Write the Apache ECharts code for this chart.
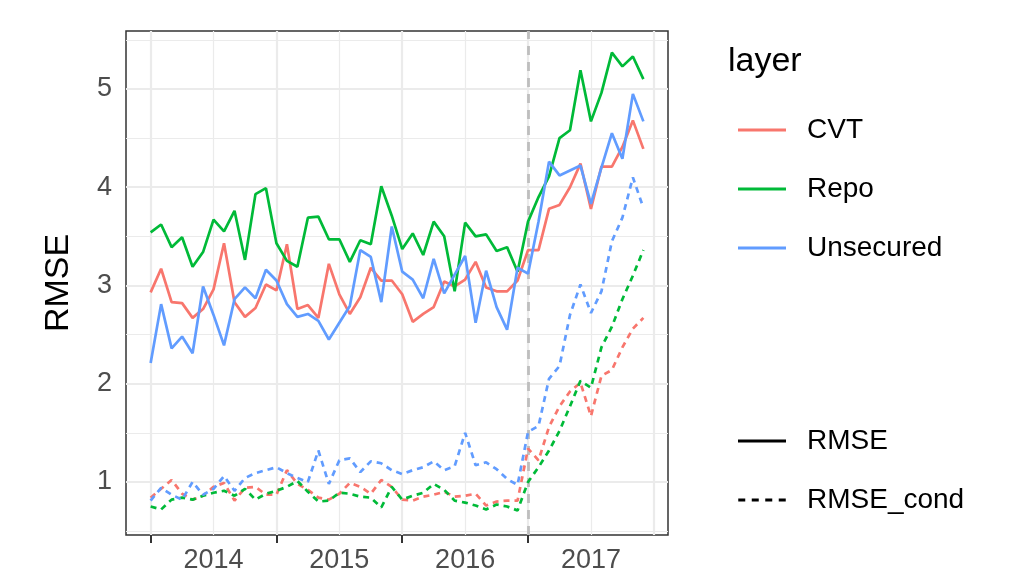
<!DOCTYPE html>
<html>
<head>
<meta charset="utf-8">
<script src="https://cdn.jsdelivr.net/npm/echarts@6/dist/echarts.min.js"></script>
<style>
html,body{margin:0;padding:0;background:#fff;}
#chart{width:1017px;height:579px;}
</style>
</head>
<body>
<div id="chart"></div>
<script>
// Months: Jan 2014 .. Dec 2017 (index 0..47)
const years = ['2014', '2015', '2016', '2017'];
const monthIndex = Array.from({length: 48}, (_, i) => i);

// RMSE (solid)
const cvtRMSE = [2.93,3.17,2.83,2.82,2.67,2.76,2.96,3.43,2.83,2.68,2.77,3.01,
                 2.95,3.42,2.76,2.80,2.67,3.22,2.91,2.71,2.88,3.18,3.05,3.05,
                 2.91,2.63,2.71,2.78,3.04,2.99,3.06,3.24,2.98,2.94,2.94,3.05,
                 3.36,3.36,3.78,3.82,4.00,4.24,3.78,4.21,4.21,4.41,4.68,4.39];
const repoRMSE = [3.54,3.62,3.39,3.49,3.19,3.34,3.67,3.55,3.76,3.26,3.93,3.99,
                  3.43,3.25,3.19,3.69,3.70,3.47,3.47,3.24,3.46,3.42,4.01,3.71,
                  3.37,3.53,3.31,3.65,3.50,2.94,3.64,3.50,3.52,3.35,3.39,3.14,
                  3.65,3.90,4.11,4.50,4.58,5.19,4.67,4.96,5.37,5.23,5.33,5.10];
const unsecRMSE = [2.21,2.81,2.36,2.48,2.31,2.99,2.70,2.39,2.86,2.98,2.87,3.16,
                   3.05,2.81,2.68,2.71,2.64,2.45,2.62,2.79,3.36,3.29,2.83,3.60,
                   3.14,3.06,2.87,3.27,2.92,3.11,3.30,2.62,3.15,2.78,2.55,3.18,
                   3.12,3.65,4.26,4.12,4.17,4.22,3.83,4.20,4.55,4.29,4.95,4.67];
// RMSE_cond (dashed)
const cvtCond = [0.84,0.93,1.02,0.88,0.82,0.86,0.95,0.99,0.81,0.94,0.95,0.87,
                 0.87,1.12,0.98,0.92,0.84,0.82,0.88,0.99,0.95,0.88,1.02,0.95,
                 0.82,0.81,0.85,0.87,0.90,0.85,0.86,0.88,0.76,0.80,0.81,0.81,
                 1.34,1.22,1.56,1.77,1.92,2.01,1.67,2.08,2.14,2.37,2.56,2.67];
const repoCond = [0.75,0.72,0.82,0.84,0.82,0.86,0.89,0.91,0.86,0.93,0.82,0.88,
                  0.91,0.95,1.01,0.90,0.80,0.81,0.89,0.88,0.85,0.84,0.74,0.95,
                  0.82,0.86,0.89,0.98,0.92,0.81,0.79,0.76,0.72,0.77,0.75,0.71,
                  1.00,1.15,1.32,1.52,1.77,2.03,1.96,2.37,2.58,2.86,3.10,3.36];
const unsecCond = [0.81,0.94,0.87,0.82,1.00,0.87,0.93,1.06,0.91,1.04,1.09,1.12,
                   1.15,1.09,1.04,1.00,1.32,0.98,1.22,1.24,1.10,1.21,1.19,1.12,
                   1.08,1.12,1.15,1.21,1.12,1.16,1.50,1.17,1.20,1.13,1.03,0.97,
                   1.51,1.57,2.05,2.18,2.70,3.01,2.72,2.94,3.45,3.69,4.10,3.79];

const yTicks = [1, 2, 3, 4, 5];
const yMinor = [0.5, 1.5, 2.5, 3.5, 4.5, 5.5];
const xYearStarts = [0, 12, 24, 36, 48];
const xYearMids = [6, 18, 30, 42];
const breakMonth = 36;

const COLORS = {CVT: '#F8766D', Repo: '#00BA38', Unsecured: '#619CFF'};
const FONT = '"Liberation Sans", Arial, Helvetica, sans-serif';
const GRID = '#EBEBEB';
const ICON_SOLID = 'path://M0,0h48v3h-48z';
const ICON_DASH = 'path://M0,0h7v3h-7z M13.5,0h7v3h-7z M27,0h7v3h-7z M40.5,0h7v3h-7z';

function pairs(arr) { return arr.map((v, i) => [monthIndex[i], v]); }

function lineSeries(name, arr, color, dashed) {
  return {
    name: name, type: 'line', data: pairs(arr), symbol: 'none', z: 5,
    lineStyle: {color: color, width: 2.7, type: dashed ? [6, 5] : 'solid'},
    itemStyle: {color: color}, animation: false, silent: true
  };
}

const gridLines = [];
yTicks.forEach(v => gridLines.push({yAxis: v, lineStyle: {color: GRID, width: 2.2, type: 'solid'}}));
yMinor.forEach(v => gridLines.push({yAxis: v, lineStyle: {color: GRID, width: 1.2, type: 'solid'}}));
xYearStarts.forEach(v => gridLines.push({xAxis: v, lineStyle: {color: GRID, width: 2.2, type: 'solid'}}));
xYearMids.forEach(v => gridLines.push({xAxis: v, lineStyle: {color: GRID, width: 1.2, type: 'solid'}}));

const legendText = {fontFamily: FONT, fontSize: 28, color: '#000', lineHeight: 30, padding: [0, 0, 0, 16]};

const chart = echarts.init(document.getElementById('chart'));
chart.setOption({
  animation: false,
  backgroundColor: '#fff',
  textStyle: {fontFamily: FONT},
  title: {
    text: 'layer', left: 723, top: 40,
    textStyle: {fontFamily: FONT, fontSize: 34, fontWeight: 'normal', color: '#000'}
  },
  grid: {left: 126, right: 349, top: 31, bottom: 44, show: true, borderColor: '#333', borderWidth: 1.5, backgroundColor: 'transparent'},
  xAxis: {
    type: 'value', min: -2.35, max: 49.35,
    axisLine: {show: false},
    splitLine: {show: false},
    axisTick: {show: true, customValues: xYearStarts.slice(0, 4), length: 8, lineStyle: {color: '#333', width: 2}},
    axisLabel: {
      show: true, customValues: xYearMids, margin: 12,
      formatter: v => years[xYearMids.indexOf(v)] || '',
      color: '#4D4D4D', fontSize: 27, fontFamily: FONT
    }
  },
  yAxis: {
    type: 'value', min: 0.46, max: 5.59,
    name: 'RMSE', nameLocation: 'middle', nameGap: 50, nameRotate: 90,
    nameTextStyle: {color: '#000', fontSize: 34, fontFamily: FONT},
    axisLine: {show: false},
    splitLine: {show: false},
    axisTick: {show: true, customValues: yTicks, length: 7, lineStyle: {color: '#333', width: 2}},
    axisLabel: {show: true, customValues: yTicks, margin: 14, color: '#4D4D4D', fontSize: 27, fontFamily: FONT}
  },
  legend: [
    {
      data: [{name: 'CVT', icon: ICON_SOLID}, {name: 'Repo', icon: ICON_SOLID}, {name: 'Unsecured', icon: ICON_SOLID}],
      orient: 'vertical', left: 733, top: 110,
      itemWidth: 48, itemHeight: 3, itemGap: 29,
      textStyle: legendText, selectedMode: false
    },
    {
      data: [{name: 'RMSE', icon: ICON_SOLID}, {name: 'RMSE_cond', icon: ICON_DASH}],
      orient: 'vertical', left: 733, top: 421,
      itemWidth: 48, itemHeight: 3, itemGap: 29,
      textStyle: legendText, selectedMode: false
    }
  ],
  series: [
    {
      name: '_grid', type: 'line', data: [], z: 1, silent: true, symbol: 'none',
      markLine: {
        silent: true, symbol: 'none', label: {show: false}, animation: false,
        data: gridLines.concat([{xAxis: breakMonth, lineStyle: {color: '#BEBEBE', width: 2.8, type: [9, 7]}}])
      }
    },
    lineSeries('CVT', cvtRMSE, COLORS.CVT, false),
    lineSeries('Repo', repoRMSE, COLORS.Repo, false),
    lineSeries('Unsecured', unsecRMSE, COLORS.Unsecured, false),
    lineSeries('CVT_cond', cvtCond, COLORS.CVT, true),
    lineSeries('Repo_cond', repoCond, COLORS.Repo, true),
    lineSeries('Unsecured_cond', unsecCond, COLORS.Unsecured, true),
    {name: 'RMSE', type: 'line', data: [], symbol: 'none', lineStyle: {color: '#000', width: 2.7, type: 'solid'}, itemStyle: {color: '#000'}},
    {name: 'RMSE_cond', type: 'line', data: [], symbol: 'none', lineStyle: {color: '#000', width: 2.7, type: [6, 5]}, itemStyle: {color: '#000'}}
  ]
});
</script>
</body>
</html>
